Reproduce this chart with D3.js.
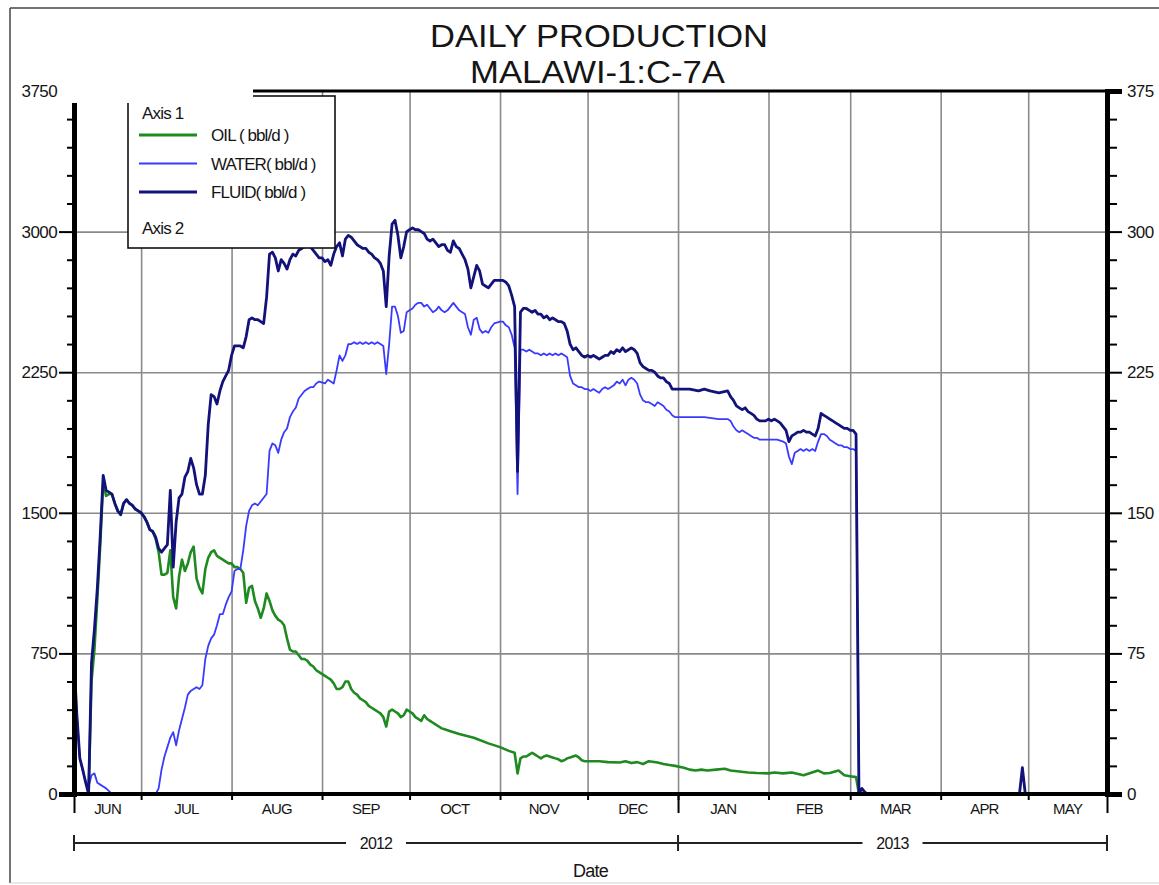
<!DOCTYPE html>
<html lang="en">
<head>
<meta charset="utf-8">
<title>Daily Production</title>
<script src="https://cdn.jsdelivr.net/npm/d3@7"></script>
<style>
  body { margin: 0; background: #fff; }
  svg text { font-family: "Liberation Sans", Arial, sans-serif; fill: #151515; }
  .tick text { font-size: 17px; letter-spacing: -0.6px; }
  .grid line { stroke: #8a8a8a; stroke-width: 1.6; }
  .grid path, .minor path { display: none; }
  .minor line { stroke: #000; stroke-width: 2; }
</style>
</head>
<body>
<svg id="chart" width="1159" height="885"></svg>
<script>
// values, bbl/d
const oilData = [
  ['2012-06-08', 0], ['2012-06-13', 0], ['2012-06-14', 600], ['2012-06-15', 770], ['2012-06-16', 1040],
  ['2012-06-17', 1330], ['2012-06-18', 1660], ['2012-06-19', 1590], ['2012-06-20', 1600], ['2012-06-21', 1600],
  ['2012-06-22', 1550], ['2012-06-23', 1510], ['2012-06-24', 1490], ['2012-06-25', 1550], ['2012-06-26', 1570],
  ['2012-06-27', 1550], ['2012-06-28', 1540], ['2012-06-29', 1520], ['2012-06-30', 1510], ['2012-07-01', 1500],
  ['2012-07-02', 1480], ['2012-07-03', 1450], ['2012-07-04', 1410], ['2012-07-05', 1400], ['2012-07-06', 1360],
  ['2012-07-07', 1290], ['2012-07-08', 1170], ['2012-07-09', 1170], ['2012-07-10', 1180], ['2012-07-11', 1300],
  ['2012-07-12', 1050], ['2012-07-13', 990], ['2012-07-14', 1160], ['2012-07-15', 1250], ['2012-07-16', 1190],
  ['2012-07-17', 1230], ['2012-07-18', 1290], ['2012-07-19', 1320], ['2012-07-20', 1150], ['2012-07-21', 1100],
  ['2012-07-22', 1070], ['2012-07-23', 1200], ['2012-07-24', 1260], ['2012-07-25', 1290], ['2012-07-26', 1300],
  ['2012-07-27', 1270], ['2012-07-28', 1260], ['2012-07-29', 1250], ['2012-07-30', 1240], ['2012-07-31', 1230],
  ['2012-08-01', 1230], ['2012-08-02', 1210], ['2012-08-03', 1210], ['2012-08-04', 1200], ['2012-08-05', 1180],
  ['2012-08-06', 1020], ['2012-08-07', 1100], ['2012-08-08', 1110], ['2012-08-09', 1030], ['2012-08-10', 990],
  ['2012-08-11', 940], ['2012-08-12', 990], ['2012-08-13', 1070], ['2012-08-14', 1030], ['2012-08-15', 980],
  ['2012-08-16', 950], ['2012-08-17', 930], ['2012-08-18', 920], ['2012-08-19', 900], ['2012-08-20', 830],
  ['2012-08-21', 770], ['2012-08-22', 760], ['2012-08-23', 760], ['2012-08-24', 740], ['2012-08-25', 720],
  ['2012-08-26', 720], ['2012-08-27', 710], ['2012-08-28', 690], ['2012-08-29', 680], ['2012-08-30', 660],
  ['2012-08-31', 650], ['2012-09-02', 630], ['2012-09-03', 620], ['2012-09-04', 610], ['2012-09-05', 590],
  ['2012-09-06', 560], ['2012-09-07', 560], ['2012-09-08', 570], ['2012-09-09', 600], ['2012-09-10', 600],
  ['2012-09-11', 560], ['2012-09-12', 540], ['2012-09-13', 530], ['2012-09-14', 510], ['2012-09-15', 500],
  ['2012-09-16', 490], ['2012-09-17', 470], ['2012-09-18', 460], ['2012-09-19', 450], ['2012-09-20', 440],
  ['2012-09-21', 430], ['2012-09-22', 410], ['2012-09-23', 360], ['2012-09-24', 440], ['2012-09-25', 450],
  ['2012-09-26', 440], ['2012-09-27', 430], ['2012-09-28', 410], ['2012-09-29', 420], ['2012-09-30', 450],
  ['2012-10-01', 440], ['2012-10-02', 430], ['2012-10-03', 410], ['2012-10-04', 400], ['2012-10-05', 390],
  ['2012-10-06', 420], ['2012-10-07', 400], ['2012-10-08', 390], ['2012-10-09', 380], ['2012-10-10', 370],
  ['2012-10-11', 360], ['2012-10-12', 350], ['2012-10-13', 345], ['2012-10-14', 340], ['2012-10-15', 335],
  ['2012-10-18', 320], ['2012-10-23', 300], ['2012-10-28', 270], ['2012-11-01', 250], ['2012-11-04', 230],
  ['2012-11-06', 220], ['2012-11-07', 110], ['2012-11-08', 190], ['2012-11-09', 200], ['2012-11-10', 200],
  ['2012-11-11', 210], ['2012-11-12', 220], ['2012-11-13', 210], ['2012-11-14', 200], ['2012-11-15', 190],
  ['2012-11-16', 200], ['2012-11-17', 205], ['2012-11-18', 200], ['2012-11-19', 195], ['2012-11-20', 190],
  ['2012-11-21', 185], ['2012-11-22', 175], ['2012-11-23', 180], ['2012-11-24', 190], ['2012-11-25', 195],
  ['2012-11-26', 200], ['2012-11-27', 205], ['2012-11-28', 195], ['2012-11-29', 180], ['2012-11-30', 175],
  ['2012-12-05', 175], ['2012-12-08', 170], ['2012-12-12', 168], ['2012-12-14', 175], ['2012-12-16', 165],
  ['2012-12-18', 170], ['2012-12-20', 160], ['2012-12-22', 175], ['2012-12-25', 168], ['2012-12-27', 160],
  ['2012-12-29', 155], ['2012-12-31', 150], ['2013-01-03', 140], ['2013-01-05', 130], ['2013-01-07', 125],
  ['2013-01-09', 130], ['2013-01-11', 125], ['2013-01-14', 130], ['2013-01-17', 135], ['2013-01-19', 125],
  ['2013-01-22', 120], ['2013-01-25', 115], ['2013-01-28', 112], ['2013-02-01', 110], ['2013-02-03', 115],
  ['2013-02-06', 110], ['2013-02-09', 115], ['2013-02-13', 100], ['2013-02-18', 125], ['2013-02-20', 110],
  ['2013-02-22', 112], ['2013-02-25', 125], ['2013-02-27', 100], ['2013-03-01', 95], ['2013-03-03', 90],
  ['2013-03-04', 0], ['2013-05-28', 0]
];

const waterData = [
  ['2012-06-08', 710], ['2012-06-09', 420], ['2012-06-10', 190], ['2012-06-11', 120], ['2012-06-12', 70],
  ['2012-06-13', 40], ['2012-06-14', 100], ['2012-06-15', 110], ['2012-06-16', 60], ['2012-06-17', 50],
  ['2012-06-18', 40], ['2012-06-19', 30], ['2012-06-20', 15], ['2012-06-21', 0], ['2012-07-06', 0],
  ['2012-07-07', 30], ['2012-07-08', 130], ['2012-07-09', 200], ['2012-07-10', 250], ['2012-07-11', 300],
  ['2012-07-12', 330], ['2012-07-13', 260], ['2012-07-14', 340], ['2012-07-15', 400], ['2012-07-16', 460],
  ['2012-07-17', 530], ['2012-07-18', 550], ['2012-07-19', 560], ['2012-07-20', 570], ['2012-07-21', 560],
  ['2012-07-22', 580], ['2012-07-23', 720], ['2012-07-24', 790], ['2012-07-25', 830], ['2012-07-26', 850],
  ['2012-07-27', 900], ['2012-07-28', 960], ['2012-07-29', 960], ['2012-07-30', 1010], ['2012-07-31', 1050],
  ['2012-08-01', 1080], ['2012-08-02', 1190], ['2012-08-03', 1200], ['2012-08-04', 1200], ['2012-08-05', 1300],
  ['2012-08-06', 1430], ['2012-08-07', 1510], ['2012-08-08', 1540], ['2012-08-09', 1550], ['2012-08-10', 1540],
  ['2012-08-11', 1560], ['2012-08-12', 1580], ['2012-08-13', 1600], ['2012-08-14', 1830], ['2012-08-15', 1870],
  ['2012-08-16', 1860], ['2012-08-17', 1820], ['2012-08-18', 1890], ['2012-08-19', 1930], ['2012-08-20', 1950],
  ['2012-08-21', 2010], ['2012-08-22', 2040], ['2012-08-23', 2060], ['2012-08-24', 2110], ['2012-08-25', 2130],
  ['2012-08-26', 2150], ['2012-08-27', 2160], ['2012-08-28', 2170], ['2012-08-29', 2170], ['2012-08-30', 2190],
  ['2012-08-31', 2200], ['2012-09-02', 2190], ['2012-09-03', 2210], ['2012-09-04', 2200], ['2012-09-05', 2190],
  ['2012-09-06', 2260], ['2012-09-07', 2340], ['2012-09-08', 2310], ['2012-09-09', 2340], ['2012-09-10', 2400],
  ['2012-09-11', 2400], ['2012-09-12', 2410], ['2012-09-13', 2400], ['2012-09-14', 2410], ['2012-09-15', 2400],
  ['2012-09-16', 2410], ['2012-09-17', 2400], ['2012-09-18', 2410], ['2012-09-19', 2400], ['2012-09-20', 2410],
  ['2012-09-21', 2400], ['2012-09-22', 2390], ['2012-09-23', 2240], ['2012-09-24', 2400], ['2012-09-25', 2600],
  ['2012-09-26', 2600], ['2012-09-27', 2550], ['2012-09-28', 2460], ['2012-09-29', 2470], ['2012-09-30', 2570],
  ['2012-10-01', 2580], ['2012-10-02', 2590], ['2012-10-03', 2610], ['2012-10-04', 2620], ['2012-10-05', 2620],
  ['2012-10-06', 2600], ['2012-10-07', 2610], ['2012-10-08', 2590], ['2012-10-09', 2570], ['2012-10-10', 2580],
  ['2012-10-11', 2600], ['2012-10-12', 2580], ['2012-10-13', 2570], ['2012-10-14', 2580], ['2012-10-15', 2600],
  ['2012-10-16', 2620], ['2012-10-17', 2600], ['2012-10-18', 2580], ['2012-10-19', 2570], ['2012-10-20', 2560],
  ['2012-10-21', 2490], ['2012-10-22', 2450], ['2012-10-23', 2530], ['2012-10-24', 2540], ['2012-10-25', 2480],
  ['2012-10-26', 2460], ['2012-10-27', 2470], ['2012-10-28', 2460], ['2012-10-29', 2490], ['2012-10-30', 2510],
  ['2012-11-01', 2520], ['2012-11-02', 2520], ['2012-11-03', 2500], ['2012-11-04', 2490], ['2012-11-05', 2450],
  ['2012-11-06', 2380], ['2012-11-07', 1600], ['2012-11-08', 2370], ['2012-11-09', 2370], ['2012-11-10', 2360],
  ['2012-11-11', 2370], ['2012-11-12', 2360], ['2012-11-13', 2350], ['2012-11-14', 2350], ['2012-11-15', 2340],
  ['2012-11-16', 2350], ['2012-11-17', 2340], ['2012-11-18', 2350], ['2012-11-19', 2340], ['2012-11-20', 2350],
  ['2012-11-21', 2340], ['2012-11-22', 2350], ['2012-11-23', 2340], ['2012-11-24', 2330], ['2012-11-25', 2230],
  ['2012-11-26', 2190], ['2012-11-27', 2180], ['2012-11-28', 2170], ['2012-11-29', 2170], ['2012-11-30', 2160],
  ['2012-12-01', 2160], ['2012-12-02', 2150], ['2012-12-03', 2160], ['2012-12-04', 2150], ['2012-12-05', 2140],
  ['2012-12-06', 2160], ['2012-12-07', 2170], ['2012-12-08', 2160], ['2012-12-09', 2170], ['2012-12-10', 2180],
  ['2012-12-11', 2200], ['2012-12-12', 2190], ['2012-12-13', 2210], ['2012-12-14', 2180], ['2012-12-15', 2210],
  ['2012-12-16', 2220], ['2012-12-17', 2210], ['2012-12-18', 2190], ['2012-12-19', 2130], ['2012-12-20', 2100],
  ['2012-12-21', 2090], ['2012-12-22', 2090], ['2012-12-23', 2080], ['2012-12-24', 2070], ['2012-12-25', 2090],
  ['2012-12-26', 2080], ['2012-12-27', 2070], ['2012-12-28', 2050], ['2012-12-29', 2040], ['2012-12-30', 2020],
  ['2012-12-31', 2010], ['2013-01-05', 2010], ['2013-01-10', 2010], ['2013-01-15', 2000], ['2013-01-18', 2000],
  ['2013-01-19', 1990], ['2013-01-20', 1960], ['2013-01-21', 1940], ['2013-01-22', 1930], ['2013-01-23', 1940],
  ['2013-01-24', 1930], ['2013-01-25', 1920], ['2013-01-26', 1910], ['2013-01-27', 1900], ['2013-01-28', 1900],
  ['2013-01-29', 1890], ['2013-02-01', 1890], ['2013-02-04', 1890], ['2013-02-06', 1880], ['2013-02-07', 1870],
  ['2013-02-08', 1800], ['2013-02-09', 1760], ['2013-02-10', 1820], ['2013-02-11', 1830], ['2013-02-12', 1840],
  ['2013-02-13', 1830], ['2013-02-14', 1840], ['2013-02-15', 1830], ['2013-02-16', 1840], ['2013-02-17', 1830],
  ['2013-02-18', 1880], ['2013-02-19', 1920], ['2013-02-20', 1920], ['2013-02-21', 1910], ['2013-02-22', 1890],
  ['2013-02-23', 1880], ['2013-02-24', 1870], ['2013-02-25', 1860], ['2013-02-26', 1860], ['2013-02-27', 1850],
  ['2013-02-28', 1850], ['2013-03-01', 1840], ['2013-03-02', 1840], ['2013-03-03', 1830], ['2013-03-04', 0],
  ['2013-05-28', 0]
];

const fluidData = [
  ['2012-06-08', 710], ['2012-06-09', 420], ['2012-06-10', 190], ['2012-06-11', 130], ['2012-06-12', 60],
  ['2012-06-13', 0], ['2012-06-14', 700], ['2012-06-15', 880], ['2012-06-16', 1100], ['2012-06-17', 1380],
  ['2012-06-18', 1700], ['2012-06-19', 1620], ['2012-06-20', 1610], ['2012-06-21', 1600], ['2012-06-22', 1550],
  ['2012-06-23', 1510], ['2012-06-24', 1490], ['2012-06-25', 1550], ['2012-06-26', 1570], ['2012-06-27', 1550],
  ['2012-06-28', 1540], ['2012-06-29', 1520], ['2012-06-30', 1510], ['2012-07-01', 1500], ['2012-07-02', 1480],
  ['2012-07-03', 1450], ['2012-07-04', 1410], ['2012-07-05', 1400], ['2012-07-06', 1370], ['2012-07-07', 1310],
  ['2012-07-08', 1290], ['2012-07-09', 1310], ['2012-07-10', 1330], ['2012-07-11', 1620], ['2012-07-12', 1210],
  ['2012-07-13', 1450], ['2012-07-14', 1580], ['2012-07-15', 1600], ['2012-07-16', 1690], ['2012-07-17', 1720],
  ['2012-07-18', 1790], ['2012-07-19', 1740], ['2012-07-20', 1650], ['2012-07-21', 1600], ['2012-07-22', 1600],
  ['2012-07-23', 1700], ['2012-07-24', 1970], ['2012-07-25', 2130], ['2012-07-26', 2120], ['2012-07-27', 2080],
  ['2012-07-28', 2150], ['2012-07-29', 2200], ['2012-07-30', 2230], ['2012-07-31', 2260], ['2012-08-01', 2340],
  ['2012-08-02', 2390], ['2012-08-03', 2390], ['2012-08-04', 2390], ['2012-08-05', 2380], ['2012-08-06', 2440],
  ['2012-08-07', 2530], ['2012-08-08', 2540], ['2012-08-09', 2530], ['2012-08-10', 2530], ['2012-08-11', 2520],
  ['2012-08-12', 2510], ['2012-08-13', 2650], ['2012-08-14', 2880], ['2012-08-15', 2890], ['2012-08-16', 2860],
  ['2012-08-17', 2790], ['2012-08-18', 2850], ['2012-08-19', 2830], ['2012-08-20', 2800], ['2012-08-21', 2850],
  ['2012-08-22', 2880], ['2012-08-23', 2870], ['2012-08-24', 2900], ['2012-08-25', 2910], ['2012-08-26', 2920],
  ['2012-08-27', 2930], ['2012-08-28', 2920], ['2012-08-29', 2900], ['2012-08-30', 2880], ['2012-08-31', 2860],
  ['2012-09-01', 2860], ['2012-09-02', 2840], ['2012-09-03', 2850], ['2012-09-04', 2820], ['2012-09-05', 2880],
  ['2012-09-06', 2920], ['2012-09-07', 2940], ['2012-09-08', 2870], ['2012-09-09', 2960], ['2012-09-10', 2980],
  ['2012-09-11', 2970], ['2012-09-12', 2950], ['2012-09-13', 2930], ['2012-09-14', 2920], ['2012-09-15', 2910],
  ['2012-09-16', 2910], ['2012-09-17', 2890], ['2012-09-18', 2880], ['2012-09-19', 2860], ['2012-09-20', 2850],
  ['2012-09-21', 2830], ['2012-09-22', 2790], ['2012-09-23', 2600], ['2012-09-24', 2870], ['2012-09-25', 3040],
  ['2012-09-26', 3060], ['2012-09-27', 2980], ['2012-09-28', 2860], ['2012-09-29', 2920], ['2012-09-30', 3000],
  ['2012-10-01', 3010], ['2012-10-02', 3020], ['2012-10-03', 3010], ['2012-10-04', 3010], ['2012-10-05', 3000],
  ['2012-10-06', 2990], ['2012-10-07', 2960], ['2012-10-08', 2950], ['2012-10-09', 2960], ['2012-10-10', 2940],
  ['2012-10-11', 2920], ['2012-10-12', 2930], ['2012-10-13', 2930], ['2012-10-14', 2900], ['2012-10-15', 2890],
  ['2012-10-16', 2950], ['2012-10-17', 2920], ['2012-10-18', 2910], ['2012-10-19', 2880], ['2012-10-20', 2850],
  ['2012-10-21', 2800], ['2012-10-22', 2700], ['2012-10-23', 2760], ['2012-10-24', 2820], ['2012-10-25', 2790],
  ['2012-10-26', 2720], ['2012-10-27', 2710], ['2012-10-28', 2700], ['2012-10-29', 2720], ['2012-10-30', 2740],
  ['2012-10-31', 2740], ['2012-11-01', 2740], ['2012-11-02', 2740], ['2012-11-03', 2730], ['2012-11-04', 2710],
  ['2012-11-05', 2660], ['2012-11-06', 2600], ['2012-11-07', 1720], ['2012-11-08', 2570], ['2012-11-09', 2590],
  ['2012-11-10', 2590], ['2012-11-11', 2580], ['2012-11-12', 2570], ['2012-11-13', 2580], ['2012-11-14', 2560],
  ['2012-11-15', 2560], ['2012-11-16', 2540], ['2012-11-17', 2550], ['2012-11-18', 2530], ['2012-11-19', 2540],
  ['2012-11-20', 2530], ['2012-11-21', 2520], ['2012-11-22', 2520], ['2012-11-23', 2510], ['2012-11-24', 2470],
  ['2012-11-25', 2400], ['2012-11-26', 2370], ['2012-11-27', 2380], ['2012-11-28', 2360], ['2012-11-29', 2340],
  ['2012-11-30', 2330], ['2012-12-01', 2340], ['2012-12-02', 2330], ['2012-12-03', 2340], ['2012-12-04', 2330],
  ['2012-12-05', 2320], ['2012-12-06', 2330], ['2012-12-07', 2340], ['2012-12-08', 2340], ['2012-12-09', 2360],
  ['2012-12-10', 2350], ['2012-12-11', 2370], ['2012-12-12', 2360], ['2012-12-13', 2380], ['2012-12-14', 2360],
  ['2012-12-15', 2370], ['2012-12-16', 2380], ['2012-12-17', 2370], ['2012-12-18', 2350], ['2012-12-19', 2300],
  ['2012-12-20', 2280], ['2012-12-21', 2270], ['2012-12-22', 2260], ['2012-12-23', 2260], ['2012-12-24', 2250],
  ['2012-12-25', 2230], ['2012-12-26', 2220], ['2012-12-27', 2220], ['2012-12-28', 2200], ['2012-12-29', 2190],
  ['2012-12-30', 2160], ['2012-12-31', 2160], ['2013-01-05', 2160], ['2013-01-08', 2150], ['2013-01-10', 2160],
  ['2013-01-12', 2150], ['2013-01-15', 2140], ['2013-01-18', 2150], ['2013-01-19', 2120], ['2013-01-20', 2100],
  ['2013-01-21', 2070], ['2013-01-22', 2060], ['2013-01-23', 2050], ['2013-01-24', 2060], ['2013-01-25', 2040],
  ['2013-01-26', 2030], ['2013-01-27', 2020], ['2013-01-28', 2000], ['2013-01-29', 1990], ['2013-01-31', 1990],
  ['2013-02-01', 2000], ['2013-02-02', 1990], ['2013-02-03', 2000], ['2013-02-04', 1990], ['2013-02-05', 1980],
  ['2013-02-06', 1960], ['2013-02-07', 1940], ['2013-02-08', 1880], ['2013-02-09', 1910], ['2013-02-10', 1920],
  ['2013-02-11', 1930], ['2013-02-12', 1930], ['2013-02-13', 1940], ['2013-02-14', 1930], ['2013-02-15', 1930],
  ['2013-02-16', 1920], ['2013-02-17', 1910], ['2013-02-18', 1950], ['2013-02-19', 2030], ['2013-02-20', 2020],
  ['2013-02-21', 2010], ['2013-02-22', 2000], ['2013-02-23', 1990], ['2013-02-24', 1980], ['2013-02-25', 1970],
  ['2013-02-26', 1960], ['2013-02-27', 1950], ['2013-02-28', 1950], ['2013-03-01', 1940], ['2013-03-02', 1940],
  ['2013-03-03', 1920], ['2013-03-04', 0], ['2013-03-05', 30], ['2013-03-06', 10], ['2013-03-07', 0],
  ['2013-04-28', 0], ['2013-04-29', 140], ['2013-04-30', 0], ['2013-05-28', 0]
];

const monthLabels = ['JUN', 'JUL', 'AUG', 'SEP', 'OCT', 'NOV', 'DEC', 'JAN', 'FEB', 'MAR', 'APR', 'MAY'];
const leftTicks = [0, 750, 1500, 2250, 3000, 3750];
const rightTicks = [0, 75, 150, 225, 300, 375];
const yearLabels = ['2012', '2013'];
const dateRange = ['2012-06-08', '2013-05-28'];

const parse = d3.timeParse('%Y-%m-%d');
const plotLeft = 74, plotRight = 1107, plotTop = 91, plotBottom = 794;

const svg = d3.select('#chart');

const x = d3.scaleTime()
  .domain(dateRange.map(parse))
  .range([plotLeft, plotRight]);

const y = d3.scaleLinear()
  .domain([0, 3750])
  .range([plotBottom, plotTop]);

const y2 = d3.scaleLinear()
  .domain([0, 375])
  .range([plotBottom, plotTop]);

// outer frame
svg.append('line').attr('x1', 10).attr('y1', 8).attr('x2', 1159).attr('y2', 8)
  .attr('stroke', '#444').attr('stroke-width', 1.5);
svg.append('line').attr('x1', 10).attr('y1', 8).attr('x2', 10).attr('y2', 883)
  .attr('stroke', '#444').attr('stroke-width', 1.5);
svg.append('line').attr('x1', 10).attr('y1', 883).attr('x2', 1159).attr('y2', 883)
  .attr('stroke', '#d0d0d0').attr('stroke-width', 1);

// title, squeezed like the original
svg.append('text')
  .attr('x', 430).attr('y', 47)
  .attr('textLength', 338).attr('lengthAdjust', 'spacingAndGlyphs')
  .style('font-size', '32px')
  .text('DAILY PRODUCTION');
svg.append('text')
  .attr('x', 470).attr('y', 83)
  .attr('textLength', 255).attr('lengthAdjust', 'spacingAndGlyphs')
  .style('font-size', '32px')
  .text('MALAWI-1:C-7A');

const monthStarts = d3.timeMonth.range(d3.timeMonth.floor(x.domain()[0]), x.domain()[1]);

// grid
svg.append('g')
  .attr('class', 'grid')
  .attr('transform', `translate(0,${plotBottom})`)
  .call(d3.axisBottom(x).tickValues(monthStarts.slice(1)).tickSize(-(plotBottom - plotTop)).tickFormat(''));

svg.append('g')
  .attr('class', 'grid')
  .attr('transform', `translate(${plotLeft},0)`)
  .call(d3.axisLeft(y).tickValues([750, 1500, 2250, 3000]).tickSize(-(plotRight - plotLeft)).tickFormat(''));

// series
const line = d3.line()
  .x(d => x(parse(d[0])))
  .y(d => y(d[1]));

const series = [
  { name: 'OIL ( bbl/d )', data: oilData, color: '#1f8a1f', width: 2.6 },
  { name: 'WATER( bbl/d )', data: waterData, color: '#3a3aff', width: 1.8 },
  { name: 'FLUID( bbl/d )', data: fluidData, color: '#12127a', width: 2.8 }
];

svg.selectAll('.series')
  .data(series)
  .enter().append('path')
  .attr('class', 'series')
  .attr('fill', 'none')
  .attr('stroke', d => d.color)
  .attr('stroke-width', d => d.width)
  .attr('stroke-linejoin', 'round')
  .attr('d', d => line(d.data));

// left axis
const leftAxis = svg.append('g')
  .attr('transform', `translate(${plotLeft},0)`)
  .call(d3.axisLeft(y).tickValues(leftTicks).tickSize(15).tickPadding(2).tickFormat(d3.format('d')));
leftAxis.select('.domain').attr('stroke-width', 5);
leftAxis.selectAll('.tick line').attr('stroke-width', 2);

svg.append('g')
  .attr('class', 'minor')
  .attr('transform', `translate(${plotLeft},0)`)
  .call(d3.axisLeft(y).tickValues(d3.range(150, 3750, 150).filter(v => v % 750)).tickSize(7).tickFormat(''));

// right axis
const rightAxis = svg.append('g')
  .attr('transform', `translate(${plotRight},0)`)
  .call(d3.axisRight(y2).tickValues(rightTicks).tickSize(15).tickPadding(5).tickFormat(d3.format('d')));
rightAxis.select('.domain').attr('stroke-width', 5);
rightAxis.selectAll('.tick line').attr('stroke-width', 2);

svg.append('g')
  .attr('class', 'minor')
  .attr('transform', `translate(${plotRight},0)`)
  .call(d3.axisRight(y2).tickValues(d3.range(15, 375, 15).filter(v => v % 75)).tickSize(10).tickFormat(''));

// top border
svg.append('line')
  .attr('x1', plotLeft).attr('x2', plotRight).attr('y1', plotTop).attr('y2', plotTop)
  .attr('stroke', '#000').attr('stroke-width', 3);

// bottom axis with month ticks
const bottomAxis = svg.append('g')
  .attr('transform', `translate(0,${plotBottom})`)
  .call(d3.axisBottom(x).tickValues(monthStarts.slice(1)).tickSize(6).tickFormat(''));
bottomAxis.select('.domain').attr('stroke-width', 4).attr('d', `M${plotLeft},0H${plotRight}`);
bottomAxis.selectAll('.tick line').attr('stroke-width', 2);

const yearStarts = [x.domain()[0], parse('2013-01-01'), x.domain()[1]];
svg.append('g')
  .attr('class', 'minor')
  .attr('transform', `translate(0,${plotBottom})`)
  .call(d3.axisBottom(x).tickValues(yearStarts).tickSize(19).tickFormat(''));

svg.append('g')
  .selectAll('text')
  .data(monthStarts)
  .enter().append('text')
  .attr('x', d => {
    const a = Math.max(x(d), plotLeft);
    const b = Math.min(x(d3.timeMonth.offset(d, 1)), plotRight);
    return (a + b) / 2;
  })
  .attr('y', 814)
  .attr('text-anchor', 'middle')
  .style('font-size', '15px')
  .style('letter-spacing', '-0.8px')
  .text((d, i) => monthLabels[i]);

// year bracket
const yearSpans = [[yearStarts[0], yearStarts[1]], [yearStarts[1], yearStarts[2]]];
const yearG = svg.append('g');
yearSpans.forEach((s, i) => {
  const a = x(s[0]), b = x(s[1]), mid = (a + b) / 2;
  yearG.append('line').attr('x1', a).attr('x2', mid - 30).attr('y1', 843).attr('y2', 843)
    .attr('stroke', '#222').attr('stroke-width', 1.8);
  yearG.append('line').attr('x1', mid + 30).attr('x2', b).attr('y1', 843).attr('y2', 843)
    .attr('stroke', '#222').attr('stroke-width', 1.8);
  yearG.append('text').attr('x', mid).attr('y', 849)
    .attr('text-anchor', 'middle').style('font-size', '16px').style('letter-spacing', '-0.8px')
    .text(yearLabels[i]);
});
yearStarts.forEach(d => {
  yearG.append('line').attr('x1', x(d)).attr('x2', x(d)).attr('y1', 835).attr('y2', 851)
    .attr('stroke', '#222').attr('stroke-width', 2);
});

svg.append('text')
  .attr('x', (plotLeft + plotRight) / 2).attr('y', 877)
  .attr('text-anchor', 'middle')
  .style('font-size', '18px')
  .style('letter-spacing', '-0.8px')
  .text('Date');

// legend
const legend = svg.append('g');
legend.append('rect')
  .attr('x', 128).attr('y', 96).attr('width', 207).attr('height', 152)
  .attr('fill', '#fff').attr('stroke', '#111').attr('stroke-width', 1.6);
legend.append('text').attr('x', 142).attr('y', 119).style('font-size', '17px').style('letter-spacing', '-0.8px').text('Axis 1');
legend.append('text').attr('x', 142).attr('y', 234).style('font-size', '17px').style('letter-spacing', '-0.8px').text('Axis 2');
series.forEach((s, i) => {
  const ly = 135 + i * 28.5;
  legend.append('line').attr('x1', 139).attr('x2', 197).attr('y1', ly).attr('y2', ly)
    .attr('stroke', s.color).attr('stroke-width', s.width + 0.4);
  legend.append('text').attr('x', 211).attr('y', ly + 6)
    .style('font-size', '17px').style('letter-spacing', '-0.9px').text(s.name);
});

// blank patch over the top-left corner, as in the original
svg.append('rect')
  .attr('x', 58).attr('y', 84).attr('width', 195).attr('height', 19)
  .attr('fill', '#fff');
</script>
</body>
</html>
